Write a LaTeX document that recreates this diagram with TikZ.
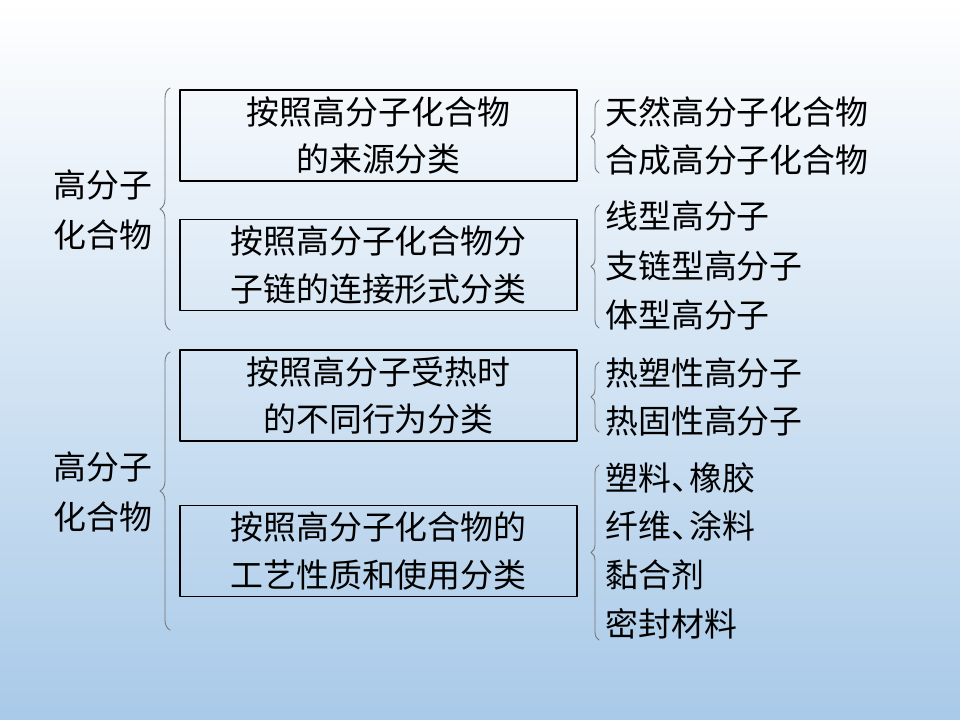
\documentclass[tikz,border=0pt]{standalone}
\usepackage{fontspec}
\setmainfont{Noto Sans CJK SC}
\usepackage{tikz}
\usetikzlibrary{decorations.pathreplacing}
\definecolor{bgtop}{rgb}{1.,1.,1.}
\definecolor{bgbot}{rgb}{0.66,0.79,0.91}
\definecolor{brgray}{rgb}{0.45,0.45,0.45}
\begin{document}
\begin{tikzpicture}[line cap=round,line join=round,x=0.025cm,y=-0.025cm,
	txt/.style={font=\fontsize{23.4}{34}\selectfont,text=black,inner sep=0pt},
	kind/.style={txt,draw=black,line width=1.pt,minimum width=9.925cm,minimum height=2.275cm,align=center},
	item/.style={txt,anchor=west},
	brc/.style={draw=brgray,line width=0.6pt,decorate,decoration={brace,amplitude=#1}}]
		\shade[top color=bgtop,bottom color=bgbot] (0,0) rectangle (960,720);
		\node[txt,align=center,font=\fontsize{23.4}{36}\selectfont] (gfz1) at (103,210) {高分子\\化合物};
		\node[txt,align=center,font=\fontsize{23.4}{36}\selectfont] (gfz2) at (103,492) {高分子\\化合物};
		\node[kind] (ly) at (378.5,135.5) {按照高分子化合物\\的来源分类};
		\node[kind] (lj) at (378.5,265) {按照高分子化合物分\\子链的连接形式分类};
		\node[kind] (rx) at (378.5,395.5) {按照高分子受热时\\的不同行为分类};
		\node[kind] (gy) at (378.5,551) {按照高分子化合物的\\工艺性质和使用分类};
		\node[item] (ly1) at (605,112) {天然高分子化合物};
		\node[item] (ly2) at (605,160) {合成高分子化合物};
		\node[item] (lj1) at (605,216) {线型高分子};
		\node[item] (lj2) at (605,266) {支链型高分子};
		\node[item] (lj3) at (605,315) {体型高分子};
		\node[item] (rx1) at (605,373) {热塑性高分子};
		\node[item] (rx2) at (605,421) {热固性高分子};
		\node[item] (gy1) at (605,478) {塑料、\kern-0.45em 橡胶};
		\node[item] (gy2) at (605,526) {纤维、\kern-0.45em 涂料};
		\node[item] (gy3) at (605,575) {黏合剂};
		\node[item] (gy4) at (605,624) {密封材料};
		\coordinate (b1t) at (170,88);
		\coordinate (b1b) at (170,330);
		\coordinate (b2t) at (170,352);
		\coordinate (b2b) at (170,630);
		\coordinate (c1t) at (599,100);
		\coordinate (c1b) at (599,173);
		\coordinate (c2t) at (599,205);
		\coordinate (c2b) at (599,328);
		\coordinate (c3t) at (599,362);
		\coordinate (c3b) at (599,432);
		\coordinate (c4t) at (599,465);
		\coordinate (c4b) at (599,640);
		\draw[brc=0.25cm] (b1b) -- (b1t);
		\draw[brc=0.25cm] (b2b) -- (b2t);
		\draw[brc=0.2cm] (c1b) -- (c1t);
		\draw[brc=0.2cm] (c2b) -- (c2t);
		\draw[brc=0.2cm] (c3b) -- (c3t);
		\draw[brc=0.2cm] (c4b) -- (c4t);
\end{tikzpicture}
\end{document}
